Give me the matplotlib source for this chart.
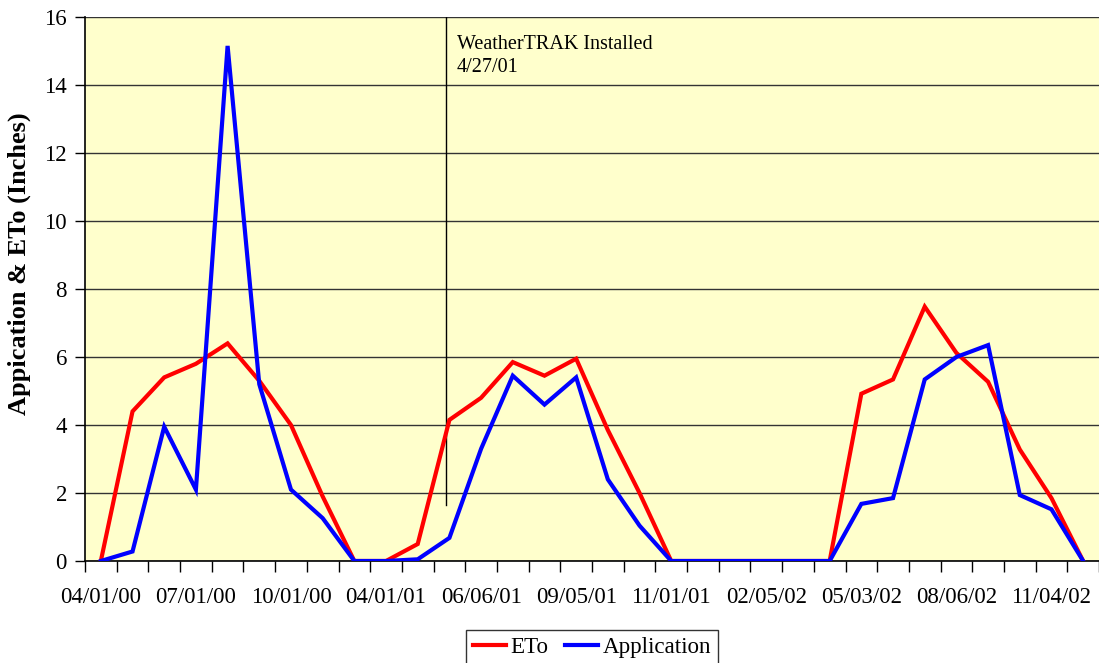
import matplotlib
matplotlib.use('Agg')
import matplotlib.pyplot as plt
import numpy as np

# monthly readings, one per category slot
eto = [0, 4.4, 5.4, 5.8, 6.4, 5.3, 4.0, 1.9, 0, 0, 0.5, 4.15, 4.8, 5.85, 5.45, 5.95,
       3.85, 2.0, 0, 0, 0, 0, 0, 0, 4.92, 5.34, 7.48, 6.12, 5.27, 3.28, 1.85, 0]
application = [0, 0.28, 3.95, 2.1, 15.15, 5.2, 2.1, 1.26, 0, 0, 0.05, 0.68, 3.3, 5.45, 4.6, 5.4,
               2.4, 1.04, 0, 0, 0, 0, 0, 0, 1.68, 1.85, 5.34, 6.0, 6.35, 1.94, 1.52, 0]
date_labels = ['04/01/00', '07/01/00', '10/01/00', '04/01/01', '06/06/01', '09/05/01',
               '11/01/01', '02/05/02', '05/03/02', '08/06/02', '11/04/02']
install_pos = 10.9
install_text = 'WeatherTRAK Installed\n4/27/01'

plt.rcParams['font.family'] = ['Liberation Serif', 'DejaVu Serif']

fig = plt.figure(figsize=(10.99, 6.63), dpi=100)
ax = fig.add_axes([85 / 1099, 1 - 561 / 663, 1014 / 1099, (561 - 17) / 663])
ax.set_facecolor('#FFFFCC')

x = np.arange(len(eto))
ax.plot(x, eto, color='#FF0000', lw=3, label='ETo', solid_joinstyle='miter', zorder=3)
ax.plot(x, application, color='#0000FF', lw=3, label='Application', solid_joinstyle='miter', zorder=4)

ax.set_xlim(-0.5, len(eto) - 0.5)
ax.set_ylim(0, 16)
ax.set_yticks(np.arange(0, 17, 2))
ax.yaxis.grid(True, color='#333333', lw=1)
ax.set_axisbelow(True)

ax.set_xticks(x[::3])
ax.set_xticklabels(date_labels)
ax.set_xticks(np.arange(-0.5, len(eto), 1), minor=True)
ax.tick_params(axis='x', which='major', length=0, pad=19, labelsize=16.5)
ax.tick_params(axis='x', which='minor', length=8, width=1, direction='out')
ax.tick_params(axis='y', length=7, width=1, labelsize=16.5, pad=6)

for s in ['top', 'right']:
    ax.spines[s].set_visible(False)
ax.spines['left'].set_linewidth(1.2)
ax.spines['bottom'].set_linewidth(1.2)

# y label sits a bit above the axis middle, like the original
fig.text(19 / 1099, 1 - 264 / 663, 'Appication & ETo (Inches)', fontsize=19, fontweight='bold',
         rotation=90, ha='center', va='center')

# install marker
ax.plot([install_pos, install_pos], [1.65, 16], color='black', lw=1, zorder=2)
ax.text(install_pos + 0.33, 15.47, install_text, fontsize=14.5, va='top', ha='left',
        linespacing=1.3)

leg = fig.legend(loc='lower center', bbox_to_anchor=(592 / 1099, -0.02), ncol=2,
                 fontsize=16.6, frameon=True, fancybox=False, edgecolor='black',
                 handlelength=1.45, handletextpad=0.2, columnspacing=0.7,
                 borderpad=0.3)
leg.get_frame().set_linewidth(1)

fig.savefig('out.png', dpi=100)
plt.close()
